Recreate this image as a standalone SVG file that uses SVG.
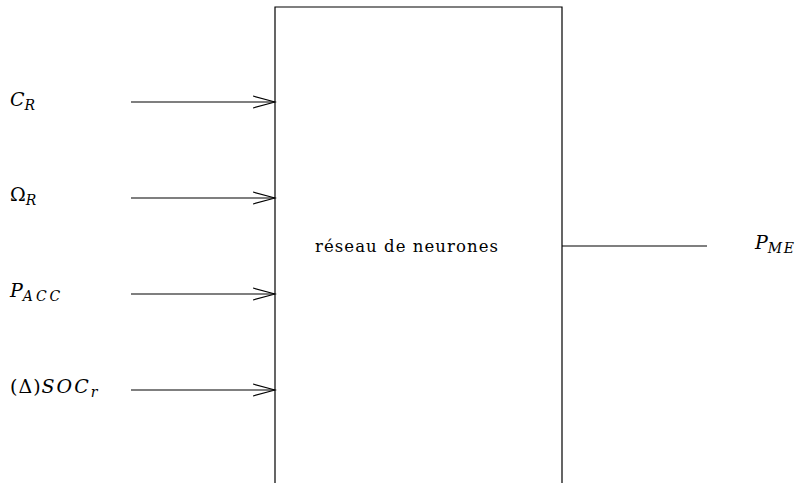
<svg xmlns="http://www.w3.org/2000/svg" width="804" height="483" viewBox="0 0 804 483">
<style>
.ln{stroke:#000;stroke-width:1.2;fill:none}
.t{font-family:"DejaVu Serif","Liberation Serif",serif;font-size:19px;fill:#000}
.i{font-style:italic}
.s{font-size:14px;font-style:italic;letter-spacing:1.5px}
.w{letter-spacing:3px}
.c{font-family:"DejaVu Serif","Liberation Serif",serif;font-size:16.5px;fill:#000}
</style>
<defs>
<marker id="ah" markerWidth="24" markerHeight="14" refX="22" refY="7" orient="auto" markerUnits="userSpaceOnUse">
<path d="M0,1 L22,7 L0,13" fill="none" stroke="#000" stroke-width="1.2"/>
</marker>
</defs>
<rect width="804" height="483" fill="#fff"/>
<g id="reseau">
<path class="ln" d="M275,484 V7 H562 V484"/>
<text class="c" x="315" y="252" textLength="183" lengthAdjust="spacing">réseau de neurones</text>
</g>
<g id="in_CR"><text class="t" x="10" y="106"><tspan class="i">C</tspan><tspan class="s" dy="4">R</tspan></text></g>
<g id="in_OR"><text class="t" x="10" y="201">Ω<tspan class="s" dy="4">R</tspan></text></g>
<g id="in_PACC"><text class="t" x="10" y="297"><tspan class="i">P</tspan><tspan class="s w" dy="4">ACC</tspan></text></g>
<g id="in_SOC"><text class="t" x="10" y="393"><tspan style="letter-spacing:1px">(Δ)</tspan><tspan class="i" style="letter-spacing:2px">SOC</tspan><tspan class="s" dy="4">r</tspan></text></g>
<g id="out_PME"><text class="t" x="755" y="249"><tspan class="i">P</tspan><tspan class="s" dy="4">ME</tspan></text></g>
<g id="connectors">
<line class="ln" x1="131" y1="102" x2="275" y2="102" marker-end="url(#ah)"/>
<line class="ln" x1="131" y1="198" x2="275" y2="198" marker-end="url(#ah)"/>
<line class="ln" x1="131" y1="294" x2="275" y2="294" marker-end="url(#ah)"/>
<line class="ln" x1="131" y1="390" x2="275" y2="390" marker-end="url(#ah)"/>
<line class="ln" x1="562" y1="246" x2="707" y2="246"/>
</g>
</svg>
